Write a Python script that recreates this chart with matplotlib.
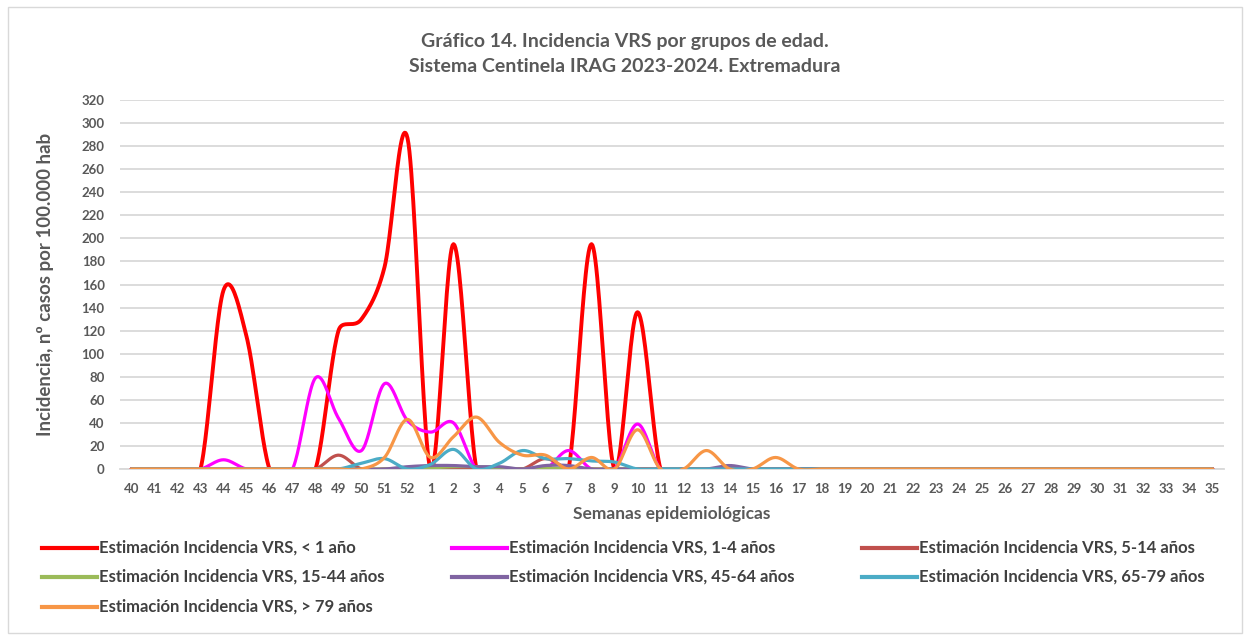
import numpy as np
import matplotlib
matplotlib.use("Agg")
import matplotlib.pyplot as plt
from matplotlib.patches import Rectangle
from matplotlib.lines import Line2D

plt.rcParams['font.family'] = ['Lato', 'DejaVu Sans']

weeks = [str(w) for w in range(40, 53)] + [str(w) for w in range(1, 36)]
n = len(weeks)

def series(vals):
    out = [0.0] * n
    for k, v in vals.items():
        out[weeks.index(str(k))] = v
    return out

lt1 = series({44: 155, 45: 115, 49: 120, 50: 130, 51: 175, 52: 287, 2: 195, 8: 195, 10: 136})
a1_4 = series({44: 8, 48: 79, 49: 44, 50: 16, 51: 74, 52: 42, 1: 32, 2: 40, 7: 16, 10: 39})
a5_14 = series({49: 12, 6: 9})
a15_44 = series({1: 1, 2: 2, 3: 2, 4: 1, 6: 1})
a45_64 = series({52: 2, 1: 3, 2: 3, 3: 2, 4: 2, 6: 3, 7: 3, 14: 3})
a65_79 = series({50: 5, 51: 9, 1: 4, 2: 17, 4: 5, 5: 16, 6: 9, 7: 9, 8: 7, 9: 6})
gt79 = series({51: 10, 52: 43, 1: 10, 2: 28, 3: 45, 4: 23, 5: 12, 6: 12, 8: 10, 10: 34, 13: 16, 16: 10})

labels = ["Estimación Incidencia VRS, < 1 año",
          "Estimación Incidencia VRS, 1-4 años",
          "Estimación Incidencia VRS, 5-14 años",
          "Estimación Incidencia VRS, 15-44 años",
          "Estimación Incidencia VRS, 45-64 años",
          "Estimación Incidencia VRS, 65-79 años",
          "Estimación Incidencia VRS, > 79 años"]
data = [lt1, a1_4, a5_14, a15_44, a45_64, a65_79, gt79]
colors = ['#FF0000', '#FF00FF', '#C0504D', '#9BBB59', '#8064A2', '#4BACC6', '#F79646']

# screen scale (px per data unit) used for Excel-like smoothing
SX, SY = 23.0, 369.0 / 320.0

def smooth(y, steps=24):
    y = np.asarray(y, float)
    x = np.arange(len(y), dtype=float)
    P = np.column_stack([x * SX, y * SY])
    Pe = np.vstack([P[0], P, P[-1]])
    pts = []
    t = np.linspace(0, 1, steps, endpoint=False)[:, None]
    for i in range(len(P) - 1):
        p0, p1, p2, p3 = Pe[i], Pe[i + 1], Pe[i + 2], Pe[i + 3]
        seg = np.linalg.norm(p2 - p1)
        v1 = (p2 - p0) / 6.0
        v2 = (p3 - p1) / 6.0
        n1, n2 = np.linalg.norm(v1), np.linalg.norm(v2)
        if n1 > seg / 2 and n1 > 0:
            v1 = v1 * (seg / 2) / n1
        if n2 > seg / 2 and n2 > 0:
            v2 = v2 * (seg / 2) / n2
        c1 = p1 + v1
        c2 = p2 - v2
        b = ((1 - t) ** 3) * p1 + 3 * ((1 - t) ** 2) * t * c1 + 3 * (1 - t) * t ** 2 * c2 + t ** 3 * p2
        pts.append(b)
    pts.append(P[-1][None, :])
    pts = np.vstack(pts)
    return pts[:, 0] / SX, pts[:, 1] / SY

fig = plt.figure(figsize=(12.5, 6.39), dpi=100)
W, H = 1250, 639
ax = fig.add_axes([120 / W, 1 - 469 / H, (1224 - 120) / W, (469 - 100) / H])

txt = '#595959'
for i, (d, c) in enumerate(zip(data, colors)):
    xs, ys = smooth(d)
    ax.plot(xs, ys, color=c, lw=2.8 if i == 0 else 2.3, solid_capstyle='round', zorder=3 + i)

ax.set_xlim(-0.5, n - 0.5)
ax.set_ylim(0, 320)
ax.set_yticks(np.arange(0, 321, 20))
ax.set_xticks(np.arange(n))
ax.set_xticklabels(weeks)
ax.grid(axis='y', color='#D9D9D9', lw=1.3)
ax.set_axisbelow(True)
for s in ['top', 'right', 'left']:
    ax.spines[s].set_visible(False)
ax.spines['bottom'].set_color('#D9D9D9')
ax.spines['bottom'].set_linewidth(1.3)
ax.tick_params(length=0, labelsize=9.5, labelcolor=txt)
ax.tick_params(axis='y', pad=11)
ax.tick_params(axis='x', pad=10)
for lab in ax.get_xticklabels() + ax.get_yticklabels():
    lab.set_fontweight('bold')

ax.set_xlabel("Semanas epidemiológicas", fontsize=12.5, fontweight='bold', color=txt, labelpad=8)
ax.set_ylabel("Incidencia, nº casos por 100.000 hab", fontsize=13.5, fontweight='bold', color=txt, labelpad=20)

fig.text(0.5, 1 - 42 / H, "Gráfico 14. Incidencia VRS por grupos de edad.", ha='center', va='center',
         fontsize=14, fontweight='bold', color=txt)
fig.text(0.5, 1 - 67 / H, "Sistema Centinela IRAG 2023-2024. Extremadura", ha='center', va='center',
         fontsize=14, fontweight='bold', color=txt)

cols_x = [42, 452, 862]
rows_y = [548, 577, 607]
for k, (lab, c) in enumerate(zip(labels, colors)):
    cx = cols_x[k % 3]
    ry = rows_y[k // 3]
    fig.add_artist(Line2D([cx / W, (cx + 55) / W], [1 - ry / H, 1 - ry / H], color=c, lw=3))
    fig.text((cx + 57) / W, 1 - ry / H, lab, ha='left', va='center', fontsize=12,
             fontweight='bold', color='#404040')

fig.add_artist(Rectangle((8 / W, 6 / H), (1242 - 8) / W, (632 - 6) / H, transform=fig.transFigure,
                         fill=False, edgecolor='#D9D9D9', lw=1))

fig.savefig("out.png", dpi=100)
